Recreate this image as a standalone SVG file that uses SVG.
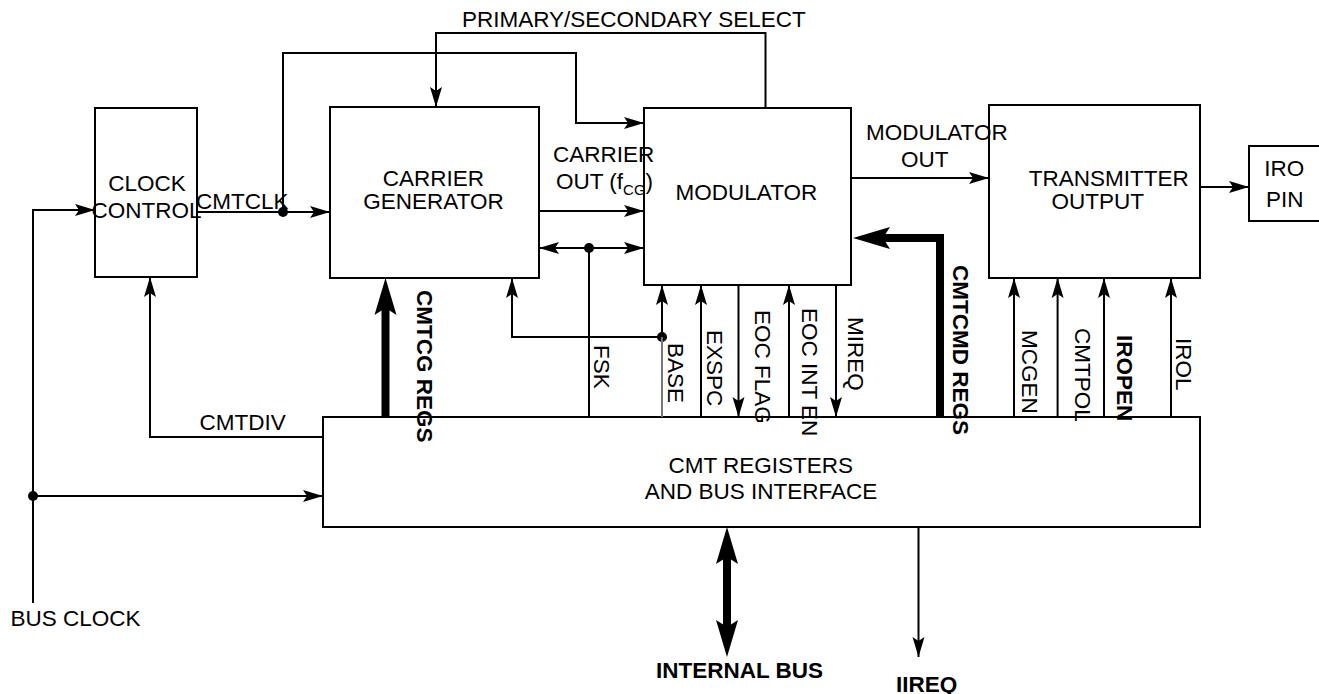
<svg xmlns="http://www.w3.org/2000/svg" width="1319" height="694" viewBox="0 0 1319 694">
<style>
  .box{fill:#fff;stroke:#000;stroke-width:2}
  .ln{fill:none;stroke:#000;stroke-width:2}
  .thick{fill:none;stroke:#000;stroke-width:8}
  .a{marker-end:url(#arr)}
  .t{font-family:"Liberation Sans",Arial,sans-serif;font-size:22.5px;fill:#000}
  .b{font-weight:bold}
  .m{text-anchor:middle}
</style>
<defs>
  <marker id="arr" markerUnits="userSpaceOnUse" markerWidth="22" markerHeight="14" viewBox="0 0 22 14" refX="21" refY="7" orient="auto-start-reverse">
    <path d="M1,1 L21,7 L1,13 L5,7 z" fill="#000"/>
  </marker>
  <marker id="big" markerUnits="userSpaceOnUse" markerWidth="40" markerHeight="26" viewBox="0 0 40 26" refX="16" refY="13" orient="auto-start-reverse">
    <path d="M1,2 L38,13 L1,24 L8,13 z" fill="#000"/>
  </marker>
</defs>

<g id="clock-control">
  <rect class="box" x="95" y="108" width="102" height="169"/>
  <text class="t m" x="147" y="191">CLOCK</text>
  <text class="t m" x="146.5" y="218">CONTROL</text>
</g>
<g id="carrier-generator">
  <rect class="box" x="330" y="107" width="209" height="171"/>
  <text class="t m" x="433.5" y="185.5">CARRIER</text>
  <text class="t m" x="433.5" y="209">GENERATOR</text>
</g>
<g id="modulator">
  <rect class="box" x="644" y="108" width="207" height="177"/>
  <text class="t" x="675.6" y="200">MODULATOR</text>
</g>
<g id="transmitter-output">
  <rect class="box" x="989" y="105" width="211" height="173"/>
  <text class="t" x="1028.7" y="186">TRANSMITTER</text>
  <text class="t" x="1051.6" y="209">OUTPUT</text>
</g>
<g id="iro-pin">
  <rect class="box" x="1249" y="146" width="80" height="75"/>
  <text class="t m" x="1284.3" y="176">IRO</text>
  <text class="t m" x="1284.7" y="207">PIN</text>
</g>
<g id="cmt-registers">
  <rect class="box" x="323" y="417" width="877" height="110"/>
  <text class="t m" x="760.7" y="472.7">CMT REGISTERS</text>
  <text class="t m" x="761" y="499">AND BUS INTERFACE</text>
</g>

<g id="connectors">
  <path class="ln a" d="M33,603 V210 H95"/>
  <path class="ln a" d="M33,496 H323"/>
  <circle cx="33" cy="496" r="5"/>
  <path class="ln a" d="M197,212 H330"/>
  <path class="ln a" d="M283,212 V53 H576 V123 H644"/>
  <circle cx="283" cy="212" r="5"/>
  <path class="ln a" d="M765.5,108 V33 H436 V107"/>
  <path class="ln a" d="M539,211 H644"/>
  <path class="ln" d="M539,248 H644" marker-start="url(#arr)" marker-end="url(#arr)"/>
  <circle cx="589" cy="248" r="5"/>
  <path class="ln" d="M589,248 V417"/>
  <path class="ln a" d="M851,178 H989"/>
  <path class="ln a" d="M1200,187 H1249"/>
  <path class="ln a" d="M323,437 H150 V277"/>
  <path class="thick" d="M385.5,417 V300" marker-end="url(#big)"/>
  <path class="ln a" d="M662,337 H512 V278"/>
  <circle cx="662" cy="337" r="5"/>
  <path class="ln" d="M662,417 V337" style="stroke:#777"/>
  <path class="ln a" d="M662,337 V285"/>
  <path class="ln a" d="M701,417 V285"/>
  <path class="ln a" d="M738.5,285 V417"/>
  <path class="ln a" d="M789,417 V285"/>
  <path class="ln a" d="M836,285 V417"/>
  <path class="thick" d="M940,417 V238 H875" marker-end="url(#big)"/>
  <path class="ln a" d="M1014,417 V278"/>
  <path class="ln a" d="M1057.6,417 V278"/>
  <path class="ln a" d="M1104,417 V278"/>
  <path class="ln a" d="M1171,417 V278"/>
  <path class="thick" d="M727,549 V635" marker-start="url(#big)" marker-end="url(#big)"/>
  <path class="ln a" d="M918.5,527 V657"/>
</g>

<g id="labels">
  <text class="t" x="462" y="26.5">PRIMARY/SECONDARY SELECT</text>
  <text class="t" x="196" y="209">CMTCLK</text>
  <text class="t" x="553" y="161.5">CARRIER</text>
  <text class="t" x="556" y="189">OUT (f<tspan font-size="15" dy="6">CG</tspan><tspan dy="-6">)</tspan></text>
  <text class="t" x="866" y="140">MODULATOR</text>
  <text class="t" x="901" y="167">OUT</text>
  <text class="t" x="199.5" y="430">CMTDIV</text>
  <text class="t" x="10.5" y="626">BUS CLOCK</text>
  <text class="t b" x="656" y="678">INTERNAL BUS</text>
  <text class="t b" x="896" y="691.5">IIREQ</text>
  <text class="t b" transform="translate(417,290) rotate(90)">CMTCG REGS</text>
  <text class="t" transform="translate(594,345) rotate(90)">FSK</text>
  <text class="t" transform="translate(668,343) rotate(90)">BASE</text>
  <text class="t" transform="translate(707,330) rotate(90)">EXSPC</text>
  <text class="t" transform="translate(755,310) rotate(90)">EOC FLAG</text>
  <text class="t" transform="translate(802,308) rotate(90)">EOC INT EN</text>
  <text class="t" transform="translate(848,317) rotate(90)">MIREQ</text>
  <text class="t b" transform="translate(953,265) rotate(90)">CMTCMD REGS</text>
  <text class="t" transform="translate(1022,330) rotate(90)">MCGEN</text>
  <text class="t" transform="translate(1075,328) rotate(90)">CMTPOL</text>
  <text class="t b" transform="translate(1117,335) rotate(90)">IROPEN</text>
  <text class="t" transform="translate(1176,338) rotate(90)">IROL</text>
</g>
</svg>
